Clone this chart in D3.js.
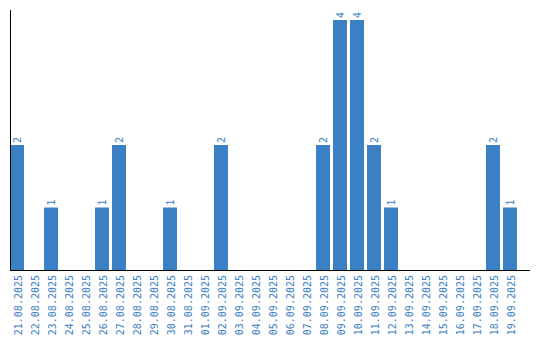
<!DOCTYPE html>
<html>
<head>
<meta charset="utf-8">
<script src="https://cdn.jsdelivr.net/npm/d3@7"></script>
<style>
  body { margin: 0; background: #fff; }
  text { font-family: "DejaVu Sans Mono", monospace; font-size: 10px; fill: #3a7ec3; }
</style>
</head>
<body>
<div id="chart"></div>
<script>
const dates = ["21.08.2025", "22.08.2025", "23.08.2025", "24.08.2025", "25.08.2025",
  "26.08.2025", "27.08.2025", "28.08.2025", "29.08.2025", "30.08.2025",
  "31.08.2025", "01.09.2025", "02.09.2025", "03.09.2025", "04.09.2025",
  "05.09.2025", "06.09.2025", "07.09.2025", "08.09.2025", "09.09.2025",
  "10.09.2025", "11.09.2025", "12.09.2025", "13.09.2025", "14.09.2025",
  "15.09.2025", "16.09.2025", "17.09.2025", "18.09.2025", "19.09.2025"];
const counts = [2, 0, 1, 0, 0, 1, 2, 0, 0, 1, 0, 0, 2, 0, 0, 0, 0, 0, 2, 4, 4, 2, 1, 0, 0, 0, 0, 0, 2, 1];

const data = dates.map((d, i) => ({ date: d, count: counts[i] }));

const margin = { top: 10, right: 10, bottom: 70, left: 10 },
    width = 540 - margin.left - margin.right,
    height = 340 - margin.top - margin.bottom;

const svg = d3.select("#chart")
    .append("svg")
    .attr("width", 540)
    .attr("height", 340)
    .append("g")
    .attr("transform", "translate(" + margin.left + "," + margin.top + ")");

// 17px per day, 14px bars
const x = d3.scaleBand()
    .domain(dates)
    .range([0, dates.length * 17 - 3])
    .paddingInner(3 / 17)
    .paddingOuter(0);

const y = d3.scaleLinear()
    .domain([0, 4])
    .range([height, 10]);

// bars
svg.selectAll("rect.bar")
    .data(data.filter(d => d.count > 0))
    .enter()
    .append("rect")
    .attr("class", "bar")
    .attr("x", d => x(d.date))
    .attr("y", d => y(d.count))
    .attr("width", x.bandwidth())
    .attr("height", d => y(0) - y(d.count))
    .attr("fill", "#3b7fc4");

// value labels
svg.selectAll("text.val")
    .data(data.filter(d => d.count > 0))
    .enter()
    .append("text")
    .attr("class", "val")
    .attr("transform", d => "translate(" + (x(d.date) + x.bandwidth() / 2) + "," + (y(d.count) - 2) + ") rotate(-90)")
    .attr("dy", "0.35em")
    .attr("text-anchor", "start")
    .text(d => d.count);

// axes lines
svg.append("line")
    .attr("x1", 0.5).attr("x2", 0.5)
    .attr("y1", 0).attr("y2", height)
    .attr("stroke", "#000");
svg.append("line")
    .attr("x1", 0).attr("x2", width)
    .attr("y1", height + 0.5).attr("y2", height + 0.5)
    .attr("stroke", "#000");

// date labels
svg.selectAll("text.tick")
    .data(dates)
    .enter()
    .append("text")
    .attr("class", "tick")
    .attr("transform", d => "translate(" + (x(d) + x.bandwidth() / 2 + 1) + "," + (height + 5) + ") rotate(-90)")
    .attr("dy", "0.35em")
    .attr("text-anchor", "end")
    .text(d => d);
</script>
</body>
</html>
